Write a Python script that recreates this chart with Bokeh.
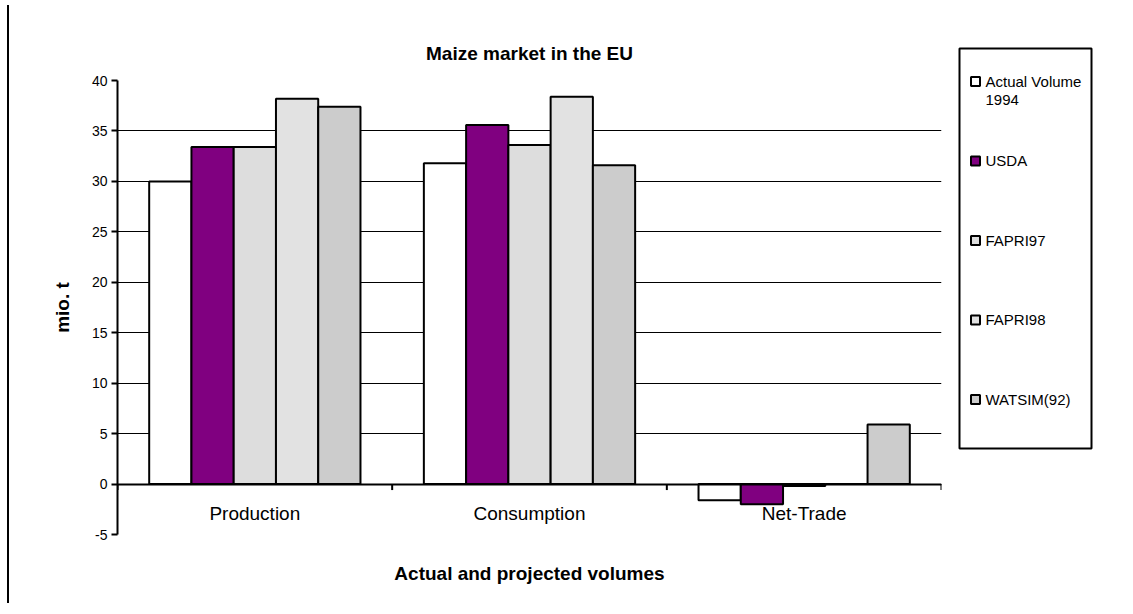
from bokeh.plotting import figure
from bokeh.models import (FactorRange, Range1d, CategoricalAxis, FixedTicker,
                          ColumnDataSource, Div, Title, PrintfTickFormatter)
from bokeh.transform import dodge
from bokeh.layouts import row
from bokeh.embed import file_html
from bokeh.resources import INLINE
from bokeh.core.properties import value
import math

# ---------------- data ----------------
categories = ["Production", "Consumption", "Net-Trade"]
series = ["Actual Volume 1994", "USDA", "FAPRI97", "FAPRI98", "WATSIM(92)"]
actual_1994 = [30.0, 31.8, -1.6]
usda = [33.4, 35.6, -2.0]
fapri97 = [33.4, 33.6, -0.2]
fapri98 = [38.2, 38.4, 0.0]
watsim92 = [37.4, 31.6, 5.9]
colors = ["#FFFFFF", "#800080", "#DDDDDD", "#E2E2E2", "#CCCCCC"]
y_ticks = [-5, 0, 5, 10, 15, 20, 25, 30, 35, 40]

FONT = "Liberation Sans"

values = [actual_1994, usda, fapri97, fapri98, watsim92]
source = ColumnDataSource(data=dict(cats=categories, **{f"s{i}": v for i, v in enumerate(values)}))

# ---------------- main chart ----------------
p = figure(x_range=FactorRange(*categories, range_padding=0, factor_padding=0),
           y_range=Range1d(y_ticks[0], y_ticks[-1]),
           width=933, height=598,
           min_border_left=99, min_border_right=10, min_border_top=80, min_border_bottom=64,
           output_backend="svg", toolbar_location=None, tools="")
p.outline_line_color = None
p.xgrid.grid_line_color = None
p.ygrid.ticker = FixedTicker(ticks=y_ticks)
p.ygrid.grid_line_color = "black"
p.ygrid.grid_line_width = 1

n = len(series)
bw = 1.0 / (n + 1.5)
for i, name in enumerate(series):
    p.vbar(x=dodge("cats", (i - (n - 1) / 2) * bw, range=p.x_range), top=f"s{i}", bottom=0,
           width=bw, source=source, fill_color=colors[i], line_color="black", line_width=2)

# y axis
ya = p.yaxis[0]
ya.ticker = FixedTicker(ticks=y_ticks)
ya.formatter = PrintfTickFormatter(format="%d")
ya.axis_line_width = 2
ya.axis_line_color = "black"
ya.major_tick_line_width = 2
ya.major_tick_line_color = "black"
ya.major_tick_out = 6
ya.major_tick_in = 0
ya.minor_tick_line_color = None
ya.major_label_text_font = FONT
ya.major_label_text_font_size = "14px"
ya.major_label_text_color = "black"
ya.major_label_standoff = 4
ya.axis_label = "mio. t"
ya.axis_label_text_font = FONT
ya.axis_label_text_font_style = "bold"
ya.axis_label_text_font_size = "19px"
ya.axis_label_text_color = "black"
ya.axis_label_standoff = 16

# bottom axis only for the title
xa = p.xaxis[0]
xa.axis_line_color = None
xa.major_tick_line_color = None
xa.minor_tick_line_color = None
xa.major_label_text_font_size = "0px"
xa.major_label_text_color = None
xa.axis_label = "Actual and projected volumes"
xa.axis_label_text_font = FONT
xa.axis_label_text_font_style = "bold"
xa.axis_label_text_font_size = "19px"
xa.axis_label_text_color = "black"
xa.axis_label_standoff = 22

# category axis at y = 0
ca = CategoricalAxis(fixed_location=0)
ca.axis_line_width = 2
ca.axis_line_color = "black"
ca.major_tick_line_color = None
ca.major_tick_in = 0
ca.major_tick_out = 0
ca.major_label_text_font = FONT
ca.major_label_text_font_size = "19px"
ca.major_label_text_color = "black"
ca.major_label_standoff = 19
p.add_layout(ca, "below")

# tick marks at category boundaries
bounds = list(range(len(categories) + 1))
p.ray(x=bounds, y=[0] * len(bounds), length=6, length_units="screen", angle=-math.pi / 2,
      line_color="black", line_width=2)

p.title = Title(text="Maize market in the EU", align="center", text_font=FONT,
                text_font_size="19px", text_font_style="bold", text_color="black", standoff=34)

# ---------------- legend panel ----------------
lg = figure(width=161, height=598, x_range=Range1d(0, 161), y_range=Range1d(598, 0),
            min_border=0, output_backend="svg", toolbar_location=None, tools="")
lg.frame_align = False
lg.axis.visible = False
lg.grid.visible = False
lg.outline_line_color = None
lg.quad(left=[8], right=[140], top=[48], bottom=[448], fill_color=None,
        line_color="black", line_width=2)
item_y = [81 + 79.5 * i for i in range(n)]
labels = [s.replace(" 1994", "\n1994") for s in series]
lg.rect(x=[24] * n, y=item_y, width=9, height=9, fill_color=colors,
        line_color="black", line_width=2)
lg.text(x=[34] * n, y=[yy - 9 for yy in item_y], text=labels, text_font=value(FONT),
        text_font_size="15px", text_baseline="top", text_align="left", text_color="black",
        text_line_height=1.1)

# ---------------- left rule ----------------
rule = Div(width=8, height=598,
           text='<div style="position:absolute;left:2px;top:0px;width:2px;height:598px;background:black"></div>')

layout = row(rule, p, lg)
open("out.html", "w").write(file_html(layout, INLINE))
